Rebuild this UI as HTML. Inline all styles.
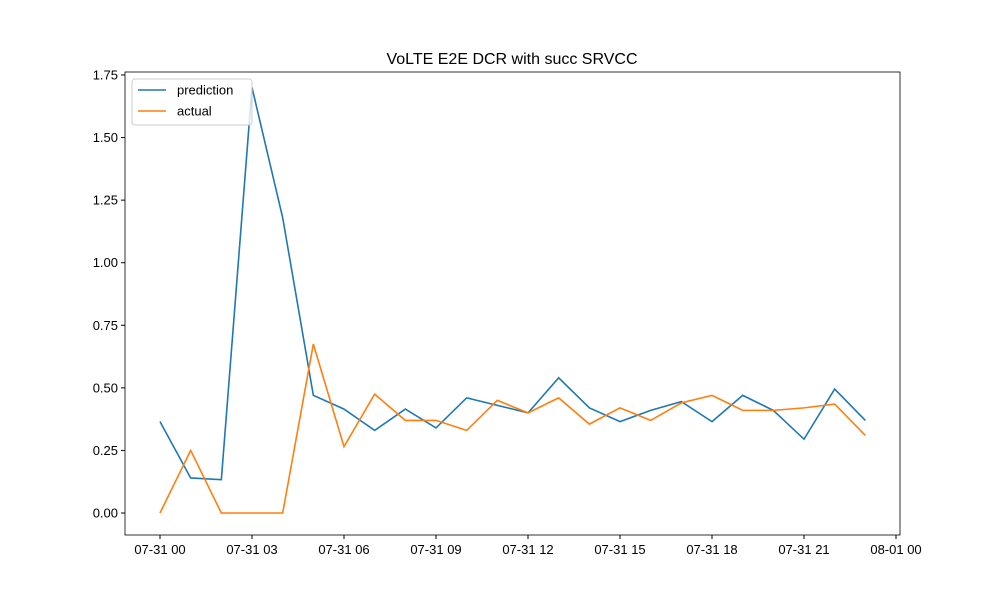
<!DOCTYPE html>
<html><head><meta charset="utf-8"><style>body{margin:0;background:#fff}svg{font-family:"Liberation Sans","DejaVu Sans",sans-serif}</style></head>
<body>
<svg id="c" width="1000" height="600" xmlns="http://www.w3.org/2000/svg"></svg>
<script>
const hours=[0,1,2,3,4,5,6,7,8,9,10,11,12,13,14,15,16,17,18,19,20,21,22,23];
const prediction=[0.365,0.14,0.133,1.70,1.18,0.47,0.415,0.33,0.415,0.34,0.46,0.43,0.40,0.54,0.42,0.365,0.41,0.445,0.365,0.47,0.41,0.295,0.495,0.37];
const actual=[0,0.25,0,0,0,0.675,0.265,0.475,0.37,0.37,0.33,0.45,0.40,0.46,0.355,0.42,0.37,0.44,0.47,0.41,0.41,0.42,0.435,0.31];
const yTicks=[0,0.25,0.5,0.75,1.0,1.25,1.5,1.75];
const xTicks=[0,3,6,9,12,15,18,21,24];
const xTickLabels=["07-31 00","07-31 03","07-31 06","07-31 09","07-31 12","07-31 15","07-31 18","07-31 21","08-01 00"];
const L=125,R=900,T=72,B=535;
const x=h=>160+h*30.667;
const y=v=>513-v*250.3;
const svg=document.getElementById('c');const NS='http://www.w3.org/2000/svg';
function mk(t,a,p){const e=document.createElementNS(NS,t);for(const k in a)e.setAttribute(k,a[k]);(p||svg).appendChild(e);return e;}
const title=mk('text',{x:512,y:64,'text-anchor':'middle','font-size':16});title.textContent='VoLTE E2E DCR with succ SRVCC';


yTicks.forEach(v=>{const g=mk('g',{});


mk('line',{x1:L-4,x2:L,y1:y(v),y2:y(v),stroke:'#000'},g);
const t=mk('text',{x:L-7,y:y(v)+4.5,'text-anchor':'end','font-size':13},g);t.textContent=v.toFixed(2);});
xTicks.forEach((h,i)=>{const g=mk('g',{});


mk('line',{x1:x(h),x2:x(h),y1:B,y2:B+4,stroke:'#000'},g);
const t=mk('text',{x:x(h),y:B+19,'text-anchor':'middle','font-size':13},g);t.textContent=xTickLabels[i];});
function line(d,c,n){const p=mk('polyline',{points:d.map((v,i)=>x(hours[i])+','+y(v)).join(' '),fill:'none',stroke:c,'stroke-width':1.6});

}
line(prediction,'#1f77b4','prediction-line');
line(actual,'#ff7f0e','actual-line');
const ax=mk('rect',{x:L,y:T,width:R-L,height:B-T,fill:'none',stroke:'#000','stroke-width':0.8});


const lg=mk('g',{});


mk('rect',{x:132,y:79,width:120,height:46,fill:'#fff','fill-opacity':0.8,stroke:'#ccc',rx:3},lg);
[['prediction','#1f77b4',90],['actual','#ff7f0e',111]].forEach(([n,c,yy])=>{
mk('line',{x1:138,x2:166,y1:yy,y2:yy,stroke:c,'stroke-width':1.6},lg);
const t=mk('text',{x:177,y:yy+4.5,'font-size':13},lg);t.textContent=n;});
</script>
</body></html>
